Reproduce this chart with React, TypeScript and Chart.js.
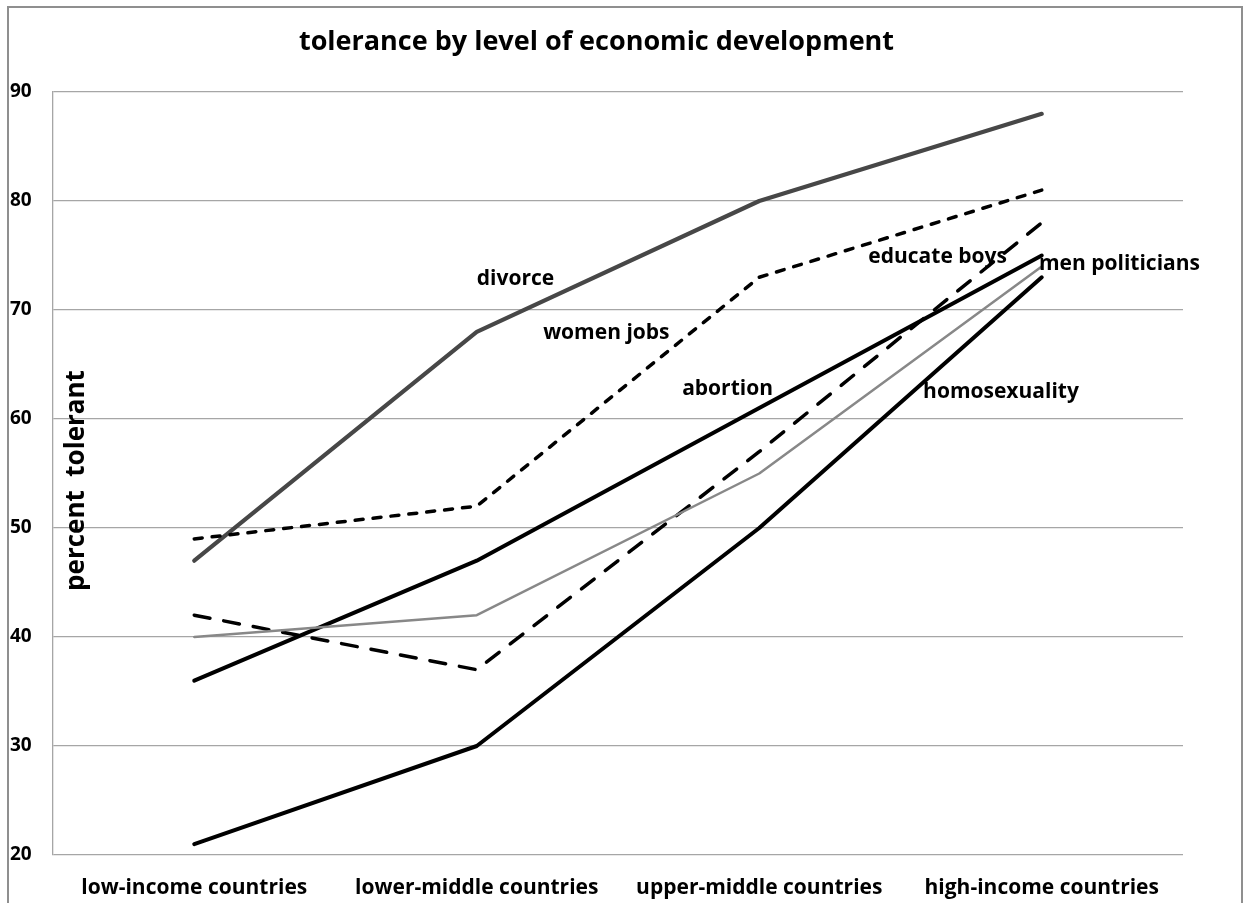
import React, { useEffect, useRef } from "react";
import { Chart, registerables } from "chart.js";

Chart.register(...registerables);

const categories = [
  "low-income countries",
  "lower-middle countries",
  "upper-middle countries",
  "high-income countries",
];
const divorce = [47, 68, 80, 88];
const womenJobs = [49, 52, 73, 81];
const abortion = [36, 47, 61, 75];
const menPoliticians = [40, 42, 55, 74];
const educateBoys = [42, 37, 57, 78];
const homosexuality = [21, 30, 50, 73];

const yTicks = [20, 30, 40, 50, 60, 70, 80, 90];

// label text, category position (fractional index), value
const labelTexts = ["divorce", "women jobs", "abortion", "educate boys", "men politicians", "homosexuality"];
const labelIndex = [1.0, 1.235, 1.727, 2.386, 2.99, 2.58];
const labelValue = [72.8, 67.9, 62.75, 74.9, 74.2, 62.5];

const FONT = "'Open Sans', Lato, sans-serif";

const annotationPlugin = {
  id: "annot",
  afterDatasetsDraw(chart: any) {
    const { ctx, scales, chartArea } = chart;
    const x = scales.x;
    const y = scales.y;
    ctx.save();
    ctx.fillStyle = "#000";
    ctx.font = `bold 21px ${FONT}`;
    ctx.textAlign = "left";
    ctx.textBaseline = "middle";
    labelTexts.forEach((t, i) => {
      ctx.fillText(t, x.getPixelForValue(labelIndex[i]), y.getPixelForValue(labelValue[i]));
    });
    // y axis title inside the plot area
    ctx.font = `bold 26px ${FONT}`;
    ctx.textAlign = "center";
    ctx.translate(chartArea.left + 24, (chartArea.top + chartArea.bottom) / 2 + 7);
    ctx.rotate(-Math.PI / 2);
    ctx.fillText("percent  tolerant", 0, 0);
    ctx.restore();
  },
};

export default function App() {
  const ref = useRef<HTMLCanvasElement | null>(null);
  useEffect(() => {
    if (!ref.current) return;
    const base = {
      fill: false,
      pointRadius: 0,
      pointHoverRadius: 0,
      tension: 0,
      borderCapStyle: "round" as const,
      borderJoinStyle: "round" as const,
    };
    const chart = new Chart(ref.current, {
      type: "line",
      data: {
        labels: categories,
        datasets: [
          { ...base, label: "men politicians", data: menPoliticians, borderColor: "#888888", borderWidth: 2.5 },
          { ...base, label: "homosexuality", data: homosexuality, borderColor: "#000000", borderWidth: 4 },
          { ...base, label: "educate boys", data: educateBoys, borderColor: "#000000", borderWidth: 3.5, borderDash: [16, 14] },
          { ...base, label: "abortion", data: abortion, borderColor: "#000000", borderWidth: 4 },
          { ...base, label: "women jobs", data: womenJobs, borderColor: "#000000", borderWidth: 3.5, borderDash: [8, 10] },
          { ...base, label: "divorce", data: divorce, borderColor: "#474747", borderWidth: 4.2 },
        ],
      },
      options: {
        animation: false,
        responsive: false,
        maintainAspectRatio: false,
        layout: { padding: { left: 1, right: 58, top: 0, bottom: 0 } },
        plugins: {
          legend: { display: false },
          tooltip: { enabled: false },
          title: {
            display: true,
            text: "tolerance by level of economic development",
            color: "#000",
            font: { family: FONT, size: 27, weight: "bold" },
            padding: { top: 18, bottom: 33.6 },
          },
        },
        scales: {
          x: {
            type: "category",
            offset: true,
            grid: { display: false, drawTicks: false },
            border: { display: false },
            ticks: {
              color: "#000",
              font: { family: FONT, size: 21, weight: "bold" },
              padding: 20.4,
              maxRotation: 0,
              autoSkip: false,
            },
            afterFit: (s: any) => {
              s.height = 48;
            },
          },
          y: {
            min: 20,
            max: 90,
            afterBuildTicks: (s: any) => {
              s.ticks = yTicks.map((v) => ({ value: v }));
            },
            grid: { color: "#a6a6a6", lineWidth: 1.3, drawTicks: false },
            border: { display: true, color: "#a6a6a6", width: 1.3 },
            ticks: {
              color: "#000",
              crossAlign: "far",
              font: { family: FONT, size: 19, weight: "bold" },
              padding: 8,
            },
            afterFit: (s: any) => {
              s.width = 43;
            },
          },
        },
      },
      plugins: [annotationPlugin],
    });
    return () => chart.destroy();
  }, []);
  return (
    <div
      style={{
        width: 1244,
        height: 903,
        boxSizing: "border-box",
        paddingTop: 6,
        paddingLeft: 7,
        background: "#fff",
        overflow: "hidden",
      }}
    >
      <style>{"html,body{margin:0;padding:0;background:#fff;}"}</style>
      <div
        style={{
          width: 1232,
          height: 895,
          borderTop: "2px solid #8f8f8f",
          borderLeft: "2px solid #8f8f8f",
          borderRight: "2px solid #8f8f8f",
          background: "#fff",
          overflow: "hidden",
        }}
      >
        <canvas ref={ref} width={1232} height={895} style={{ display: "block" }} />
      </div>
    </div>
  );
}
